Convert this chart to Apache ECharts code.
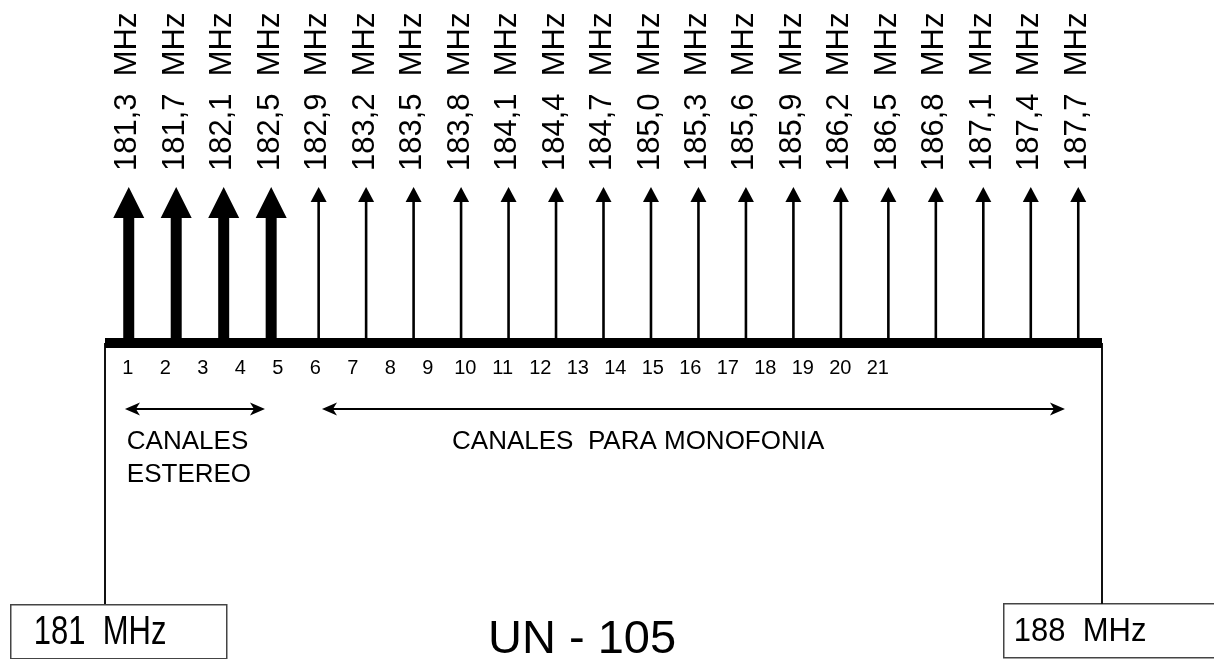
<!DOCTYPE html>
<html>
<head>
<meta charset="utf-8">
<title>UN - 105</title>
<script src="https://cdn.jsdelivr.net/npm/echarts@6/dist/echarts.min.js"></script>
<style>
html, body { margin: 0; padding: 0; background: #fff; }
#chart { width: 1214px; height: 659px; }
</style>
</head>
<body>
<div id="chart"></div>
<script>
// portadoras, en el orden del dibujo (MHz)
const freqs = ['181,3', '181,7', '182,1', '182,5', '182,9', '183,2', '183,5', '183,8', '184,1', '184,4', '184,7',
  '185,0', '185,3', '185,6', '185,9', '186,2', '186,5', '186,8', '187,1', '187,4', '187,7'];
// E = estereo (flecha gruesa), M = monofonia
const kinds = ['E', 'E', 'E', 'E', 'M', 'M', 'M', 'M', 'M', 'M', 'M', 'M', 'M', 'M', 'M', 'M', 'M', 'M', 'M', 'M', 'M'];
// nivel relativo de cada portadora (todas iguales)
const levels = [1, 1, 1, 1, 1, 1, 1, 1, 1, 1, 1, 1, 1, 1, 1, 1, 1, 1, 1, 1, 1];
// numeros de canal bajo la linea
const channels = ['1', '2', '3', '4', '5', '6', '7', '8', '9', '10', '11', '12', '13', '14', '15', '16', '17', '18', '19', '20', '21'];
// bandas (en huecos de portadora, 0..21)
const bandNames = ['CANALES\nESTEREO', 'CANALES  PARA MONOFONIA'];
const bandFrom = [0.42, 4.57];
const bandTo = [3.37, 20.22];
const bandLabelAt = [0.46, 7.31];
const edgeLabels = ['181  MHz', '188  MHz'];
const title = 'UN - 105';

const FONT = '"Liberation Sans", Arial, sans-serif';

function renderCarrier(params, api) {
  const i = api.value(0);
  const base = api.coord([i, 0]);
  const tip = api.coord([i, api.value(1)]);
  const stereo = kinds[i] === 'E';
  const shaftW = stereo ? 11 : 2.6;
  const headH = stereo ? 31 : 15;
  const headW = stereo ? 31 : 16;
  const x = base[0];
  return {
    type: 'group',
    children: [
      {
        type: 'rect',
        shape: { x: x - shaftW / 2, y: tip[1] + headH - 1, width: shaftW, height: base[1] - tip[1] - headH + 1 },
        style: { fill: '#000' }
      },
      {
        type: 'polygon',
        shape: { points: [[x, tip[1]], [x + headW / 2, tip[1] + headH], [x - headW / 2, tip[1] + headH]] },
        style: { fill: '#000' }
      },
      {
        type: 'text',
        x: x - 1,
        y: tip[1] - 16,
        rotation: Math.PI / 2,
        style: {
          text: freqs[i] + '  MHz',
          font: '31px ' + FONT,
          fill: '#000',
          align: 'left',
          verticalAlign: 'middle'
        }
      }
    ]
  };
}

function renderBand(params, api) {
  const k = params.dataIndex;
  const s = api.coord([api.value(0), 0.253]);
  const e = api.coord([api.value(1), 0.253]);
  const t = api.coord([api.value(2), 0.253]);
  const y = s[1];
  const hl = 15, hw = 6.5, notch = 11;
  return {
    type: 'group',
    children: [
      {
        type: 'line',
        shape: { x1: s[0] + 4, y1: y, x2: e[0] - 4, y2: y },
        style: { stroke: '#000', lineWidth: 2 }
      },
      {
        type: 'polygon',
        shape: { points: [[s[0], y], [s[0] + hl, y - hw], [s[0] + notch, y], [s[0] + hl, y + hw]] },
        style: { fill: '#000' }
      },
      {
        type: 'polygon',
        shape: { points: [[e[0], y], [e[0] - hl, y - hw], [e[0] - notch, y], [e[0] - hl, y + hw]] },
        style: { fill: '#000' }
      },
      {
        type: 'text',
        x: t[0],
        y: y + 16,
        style: {
          text: bandNames[k],
          font: '26px ' + FONT,
          lineHeight: 33,
          fill: '#000',
          align: 'left',
          verticalAlign: 'top'
        }
      }
    ]
  };
}

const chart = echarts.init(document.getElementById('chart'));

const option = {
  backgroundColor: '#fff',
  animation: false,
  title: {
    text: title,
    left: 488,
    top: 617,
    padding: 0,
    textStyle: { fontFamily: FONT, fontSize: 47, fontWeight: 'normal', color: '#000' }
  },
  grid: [
    { left: 105, right: 112, top: 187, height: 156 },
    { left: 105, right: 112, top: 343, bottom: 55 },
    { left: 109, width: 787.5, top: 300, height: 43 }
  ],
  xAxis: [
    {
      gridIndex: 0,
      type: 'category',
      data: freqs,
      boundaryGap: true,
      axisLine: { lineStyle: { color: '#000', width: 10, cap: 'butt' } },
      axisTick: { show: false },
      axisLabel: { show: false },
      splitLine: { show: false }
    },
    {
      gridIndex: 1,
      type: 'value',
      min: 0,
      max: freqs.length,
      show: false
    },
    {
      gridIndex: 2,
      type: 'category',
      data: channels,
      boundaryGap: true,
      axisLine: { show: false },
      axisTick: { show: false },
      axisLabel: { interval: 0, margin: 15, fontSize: 20, fontFamily: FONT, color: '#000' }
    }
  ],
  yAxis: [
    { gridIndex: 0, type: 'value', min: 0, max: 1, show: false },
    {
      gridIndex: 1,
      type: 'value',
      min: 0,
      max: 1,
      inverse: true,
      position: 'left',
      axisLine: { show: true, lineStyle: { color: '#111', width: 2, cap: 'butt' } },
      axisTick: { show: false },
      axisLabel: { show: false },
      splitLine: { show: false }
    },
    {
      gridIndex: 1,
      type: 'value',
      min: 0,
      max: 1,
      inverse: true,
      position: 'right',
      axisLine: { show: true, lineStyle: { color: '#111', width: 2, cap: 'butt' } },
      axisTick: { show: false },
      axisLabel: { show: false },
      splitLine: { show: false }
    },
    { gridIndex: 2, type: 'value', show: false }
  ],
  series: [
    {
      name: 'portadoras',
      type: 'custom',
      xAxisIndex: 0,
      yAxisIndex: 0,
      renderItem: renderCarrier,
      data: levels.map((v, i) => [i, v])
    },
    {
      name: 'bandas',
      type: 'custom',
      xAxisIndex: 1,
      yAxisIndex: 1,
      renderItem: renderBand,
      data: bandNames.map((n, i) => [bandFrom[i], bandTo[i], bandLabelAt[i]])
    }
  ],
  graphic: [
    {
      type: 'group',
      left: 10,
      top: 604,
      children: [
        { type: 'rect', shape: { x: 0, y: 0, width: 216, height: 54 }, style: { fill: '#fff', stroke: '#444', lineWidth: 1.5 } },
        { type: 'text', x: 23, y: 28.5, scaleY: 1.3, style: { text: edgeLabels[0], font: '31px ' + FONT, fill: '#000', verticalAlign: 'middle' } }
      ]
    },
    {
      type: 'group',
      left: 1003,
      top: 603,
      children: [
        { type: 'rect', shape: { x: 0, y: 0, width: 240, height: 54 }, style: { fill: '#fff', stroke: '#444', lineWidth: 1.5 } },
        { type: 'text', x: 10, y: 28, scaleY: 1.1, style: { text: edgeLabels[1], font: '31px ' + FONT, fill: '#000', verticalAlign: 'middle' } }
      ]
    }
  ]
};

chart.setOption(option);
</script>
</body>
</html>
